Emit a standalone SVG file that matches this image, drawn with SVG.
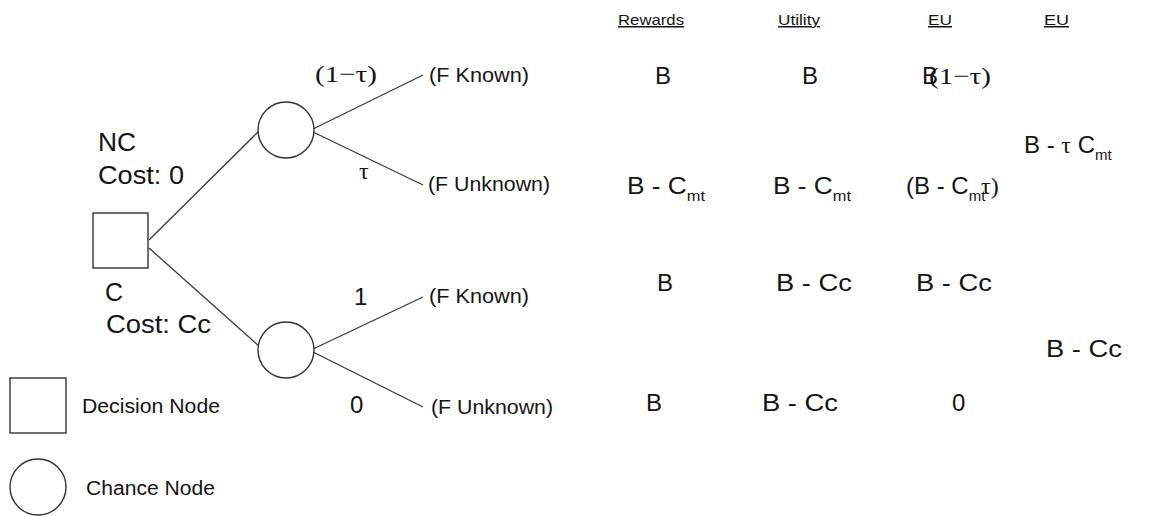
<svg xmlns="http://www.w3.org/2000/svg" width="1160" height="516" viewBox="0 0 1160 516">
  <style>
    .s{font-family:"Liberation Sans",Arial,sans-serif;fill:#141414}
    .r{font-family:"Liberation Serif","Times New Roman",serif;fill:#141414}
    .hd{font-size:15px;text-decoration:underline}
    .v{font-size:24px}
    .sub{font-size:15px}
    .lb{font-size:19.5px}
    .big{font-size:25px}
    .ln{stroke:#3a3a3a;stroke-width:1.3;fill:none}
    .nd{fill:#fff;stroke:#333;stroke-width:1.4}
  </style>
  <rect width="1160" height="516" fill="#fff"/>

  <!-- connectors of the tree -->
  <g id="connectors">
    <line class="ln" x1="149" y1="240" x2="259" y2="131"/>
    <line class="ln" x1="149" y1="248" x2="260" y2="347"/>
    <line class="ln" x1="313" y1="129" x2="423" y2="75"/>
    <line class="ln" x1="313" y1="132" x2="423" y2="185"/>
    <line class="ln" x1="313" y1="349" x2="423" y2="297"/>
    <line class="ln" x1="313" y1="352" x2="423" y2="407"/>
  </g>

  <!-- decision node and its option labels -->
  <g id="decision">
    <rect class="nd" x="93" y="213" width="55" height="55"/>
    <text class="s big" x="98" y="151" textLength="38" lengthAdjust="spacingAndGlyphs">NC</text>
    <text class="s big" x="98" y="184" textLength="86" lengthAdjust="spacingAndGlyphs">Cost: 0</text>
    <text class="s big" x="105" y="301" textLength="18" lengthAdjust="spacingAndGlyphs">C</text>
    <text class="s big" x="106" y="333" textLength="105" lengthAdjust="spacingAndGlyphs">Cost: Cc</text>
  </g>

  <!-- chance node after NC -->
  <g id="chance-nc">
    <circle class="nd" cx="286" cy="130" r="28"/>
    <text class="r" font-size="24" x="315" y="82" textLength="62" lengthAdjust="spacingAndGlyphs">(1−τ)</text>
    <text class="r" font-size="24" x="359" y="179">τ</text>
  </g>

  <!-- chance node after C -->
  <g id="chance-c">
    <circle class="nd" cx="286" cy="350" r="28"/>
    <text class="s v" x="354" y="305">1</text>
    <text class="s v" x="350" y="413">0</text>
  </g>

  <!-- outcome leaves -->
  <g id="leaf-nc-known">
    <text class="s lb" x="429" y="82" textLength="100" lengthAdjust="spacingAndGlyphs">(F Known)</text>
  </g>
  <g id="leaf-nc-unknown">
    <text class="s lb" x="428" y="191" textLength="122" lengthAdjust="spacingAndGlyphs">(F Unknown)</text>
  </g>
  <g id="leaf-c-known">
    <text class="s lb" x="429" y="303" textLength="100" lengthAdjust="spacingAndGlyphs">(F Known)</text>
  </g>
  <g id="leaf-c-unknown">
    <text class="s lb" x="431" y="414" textLength="122" lengthAdjust="spacingAndGlyphs">(F Unknown)</text>
  </g>

  <!-- column headers -->
  <g id="headers">
    <text class="s hd" x="618" y="25" textLength="66" lengthAdjust="spacingAndGlyphs">Rewards</text>
    <text class="s hd" x="778" y="25" textLength="42" lengthAdjust="spacingAndGlyphs">Utility</text>
    <text class="s hd" x="928" y="25" textLength="24" lengthAdjust="spacingAndGlyphs">EU</text>
    <text class="s hd" x="1044" y="25" textLength="25" lengthAdjust="spacingAndGlyphs">EU</text>
  </g>

  <!-- row: NC, F known -->
  <g id="row-nc-known">
    <text class="s v" x="655" y="84">B</text>
    <text class="s v" x="802" y="84">B</text>
    <text class="s v" x="922" y="84">B</text>
    <text class="r" font-size="24" x="929" y="84" textLength="62" lengthAdjust="spacingAndGlyphs">(1−τ)</text>
  </g>

  <!-- expected utility of NC -->
  <g id="eu-nc">
    <text class="s v" x="1024" y="153">B - <tspan class="r">τ</tspan> C<tspan class="sub" dy="7">mt</tspan></text>
  </g>

  <!-- row: NC, F unknown -->
  <g id="row-nc-unknown">
    <text class="s v" x="627" y="194" textLength="78" lengthAdjust="spacingAndGlyphs">B - C<tspan class="sub" dy="7">mt</tspan></text>
    <text class="s v" x="773" y="194" textLength="78" lengthAdjust="spacingAndGlyphs">B - C<tspan class="sub" dy="7">mt</tspan></text>
    <text class="s v" x="906" y="194">(B - C<tspan class="sub" dy="7">mt</tspan></text>
    <text class="r" font-size="24" x="981" y="194">τ)</text>
  </g>

  <!-- row: C, F known -->
  <g id="row-c-known">
    <text class="s v" x="657" y="291">B</text>
    <text class="s v" x="776" y="291" textLength="76" lengthAdjust="spacingAndGlyphs">B - Cc</text>
    <text class="s v" x="916" y="291" textLength="76" lengthAdjust="spacingAndGlyphs">B - Cc</text>
  </g>

  <!-- expected utility of C -->
  <g id="eu-c">
    <text class="s v" x="1046" y="357" textLength="76" lengthAdjust="spacingAndGlyphs">B - Cc</text>
  </g>

  <!-- row: C, F unknown -->
  <g id="row-c-unknown">
    <text class="s v" x="646" y="411">B</text>
    <text class="s v" x="762" y="411" textLength="76" lengthAdjust="spacingAndGlyphs">B - Cc</text>
    <text class="s v" x="952" y="411">0</text>
  </g>

  <!-- legend -->
  <g id="legend-decision">
    <rect class="nd" x="10" y="378" width="56" height="55"/>
    <text class="s lb" x="82" y="413" textLength="138" lengthAdjust="spacingAndGlyphs">Decision Node</text>
  </g>
  <g id="legend-chance">
    <circle class="nd" cx="38" cy="487" r="28"/>
    <text class="s lb" x="86" y="495" textLength="129" lengthAdjust="spacingAndGlyphs">Chance Node</text>
  </g>
</svg>
